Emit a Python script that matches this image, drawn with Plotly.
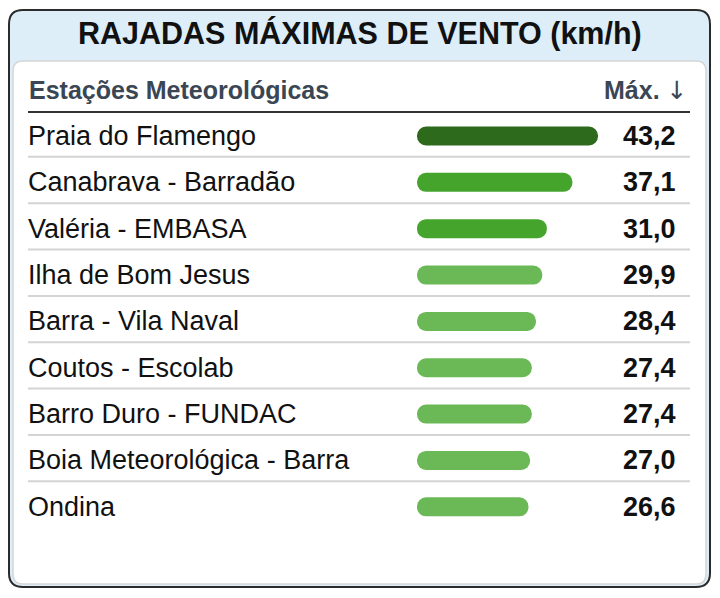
import plotly.graph_objects as go

stations = ['Praia do Flamengo', 'Canabrava - Barradão', 'Valéria - EMBASA',
            'Ilha de Bom Jesus', 'Barra - Vila Naval', 'Coutos - Escolab',
            'Barro Duro - FUNDAC', 'Boia Meteorológica - Barra', 'Ondina']
gust_max = [43.2, 37.1, 31.0, 29.9, 28.4, 27.4, 27.4, 27.0, 26.6]

title = 'RAJADAS MÁXIMAS DE VENTO (km/h)'
col_station = 'Estações Meteorológicas'
col_value = 'Máx.'

W, H = 720, 598
FONT = 'Liberation Sans, Arial, Helvetica, sans-serif'
ROW0, PITCH = 136, 46.35          # px centre of first row, row spacing
BAR_X0, BAR_X1 = 417, 690          # px extent of the bar axis
PX_PER_KMH = 4.19


def bar_color(v):
    if v >= 40:
        return '#2d6a1c'
    if v >= 30:
        return '#45a42c'
    return '#6ab856'


def px(x):
    return x / W


def py(y):
    return 1 - y / H


def rounded_rect(x0, y0, x1, y1, r):
    pts = [('M', x0 + r, y0), ('L', x1 - r, y0), ('Q', x1, y0, x1, y0 + r),
           ('L', x1, y1 - r), ('Q', x1, y1, x1 - r, y1), ('L', x0 + r, y1),
           ('Q', x0, y1, x0, y1 - r), ('L', x0, y0 + r), ('Q', x0, y0, x0 + r, y0)]
    out = []
    for p in pts:
        cmd, coords = p[0], p[1:]
        xy = ['%.5f,%.5f' % (px(coords[k]), py(coords[k + 1])) for k in range(0, len(coords), 2)]
        out.append(cmd + ' '.join(xy))
    return ' '.join(out) + ' Z'


rows = list(range(len(stations)))
colors = [bar_color(v) for v in gust_max]

fig = go.Figure()
# explicit base -> floating bars, plotly rounds both ends (pill shape)
fig.add_trace(go.Bar(
    x=gust_max, base=[0] * len(gust_max), y=rows, orientation='h', width=0.41,
    marker=dict(color=colors, cornerradius='50%', line=dict(width=0)),
    hoverinfo='skip', showlegend=False))

shapes = [
    dict(type='path', xref='paper', yref='paper', layer='below',
         path=rounded_rect(9, 10, 710, 587, 14),
         fillcolor='#ddeef9', line=dict(color='#2b2b2b', width=2)),
    dict(type='path', xref='paper', yref='paper', layer='below',
         path=rounded_rect(13, 61, 706, 584, 10),
         fillcolor='white', line=dict(color='#d6d6d6', width=1.5)),
    dict(type='line', xref='paper', yref='paper', layer='below',
         x0=px(28), x1=px(690), y0=py(112), y1=py(112),
         line=dict(color='#333333', width=2)),
]
for i in rows[:-1]:
    shapes.append(dict(type='line', xref='paper', yref='y', layer='below',
                       x0=px(28), x1=px(690), y0=i + 0.45, y1=i + 0.45,
                       line=dict(color='#d4d4d4', width=2)))

annotations = [
    dict(text='<b>%s</b>' % title, x=0.5, y=py(34), xref='paper', yref='paper',
         xanchor='center', yanchor='middle', showarrow=False,
         font=dict(family=FONT, size=30.5, color='#111111')),
    dict(text='<b>%s</b>' % col_station, x=px(27), y=py(90), xref='paper', yref='paper',
         xanchor='left', yanchor='middle', showarrow=False,
         font=dict(family=FONT, size=25, color='#3a4654')),
    dict(text='<b>%s</b> <span style="font-family:DejaVu Sans">↓</span>' % col_value,
         x=px(690), y=py(90), xref='paper', yref='paper',
         xanchor='right', yanchor='middle', showarrow=False,
         font=dict(family=FONT, size=25, color='#3a4654')),
]
for i, (name, v) in enumerate(zip(stations, gust_max)):
    annotations.append(dict(text=name, x=px(25.5), y=i, xref='paper', yref='y',
                            xanchor='left', yanchor='middle', showarrow=False,
                            font=dict(family=FONT, size=27, color='#111111')))
    annotations.append(dict(text='<b>%s</b>' % ('%.1f' % v).replace('.', ','),
                            x=px(678), y=i, xref='paper', yref='y',
                            xanchor='right', yanchor='middle', showarrow=False,
                            font=dict(family=FONT, size=27, color='#111111')))

fig.update_layout(
    width=W, height=H, margin=dict(l=0, r=0, t=0, b=0),
    paper_bgcolor='white', plot_bgcolor='rgba(0,0,0,0)',
    shapes=shapes, annotations=annotations,
    xaxis=dict(domain=[px(BAR_X0), px(BAR_X1)],
               range=[0, (BAR_X1 - BAR_X0) / PX_PER_KMH],
               showgrid=False, zeroline=False, showticklabels=False, fixedrange=True),
    yaxis=dict(domain=[py(ROW0 + 8.5 * PITCH), py(ROW0 - 0.5 * PITCH)],
               range=[8.5, -0.5], showgrid=False, zeroline=False,
               showticklabels=False, fixedrange=True),
)

fig.write_html('out.html', config={'displayModeBar': False},
               post_script="document.body.style.margin='0';")
